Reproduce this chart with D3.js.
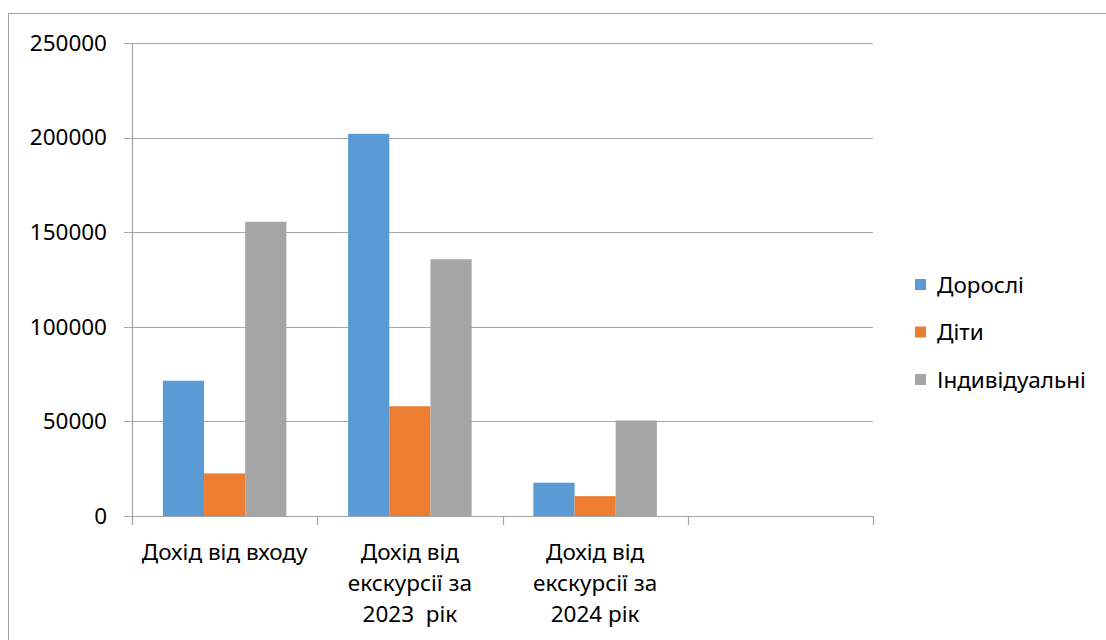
<!DOCTYPE html>
<html>
<head>
<meta charset="utf-8">
<script src="https://cdn.jsdelivr.net/npm/d3@7"></script>
<style>
  html, body { margin: 0; padding: 0; background: #fff; }
  svg { display: block; }
  text { font-family: "Noto Sans", "Open Sans", sans-serif; fill: #000; white-space: pre; }
</style>
</head>
<body>
<svg id="chart" width="1106" height="640"></svg>
<script>
const categories = [
  ["Дохід від входу"],
  ["Дохід від", "екскурсії за", "2023  рік"],
  ["Дохід від", "екскурсії за", "2024 рік"],
  [""]
];
const seriesNames = ["Дорослі", "Діти", "Індивідуальні"];
const seriesColors = ["#5b9bd5", "#ed7d31", "#a5a5a5"];
const adults = [71500, 202000, 17600, null];
const children = [22500, 58000, 10500, null];
const individual = [155500, 135700, 50500, null];
const yTicks = [0, 50000, 100000, 150000, 200000, 250000];

(function() {
const seriesValues = [adults, children, individual];
const svg = d3.select("#chart");
const fs = 22.5;

// outer border
svg.append("rect").attr("x", 8.5).attr("y", 13.5).attr("width", 1120).attr("height", 660)
  .attr("fill", "none").attr("stroke", "#a0a0a0").attr("stroke-width", 1);

const pL = 132, pR = 873, pT = 43, pB = 516;
const catIdx = categories.map((d, i) => i);
const x = d3.scaleBand().domain(catIdx).range([pL, pR]).paddingInner(0).paddingOuter(0);
const bw = x.bandwidth() / 4.5;
const xs = d3.scaleBand().domain([0, 1, 2]).range([bw * 0.75, bw * 3.75]).padding(0);
const y = d3.scaleLinear().domain([0, 250000]).range([pB, pT]);

// gridlines
svg.append("g").selectAll("line").data(yTicks).join("line")
  .attr("x1", pL - 8).attr("x2", pR)
  .attr("y1", d => Math.round(y(d)) + 0.5).attr("y2", d => Math.round(y(d)) + 0.5)
  .attr("stroke", "#a6a6a6").attr("stroke-width", 1.2);

// y axis labels
svg.append("g").selectAll("text").data(yTicks).join("text")
  .attr("x", 107).attr("y", d => y(d)).attr("dy", "0.35em")
  .attr("text-anchor", "end").attr("font-size", fs)
  .text(d => d);

// bars
const groups = svg.append("g").selectAll("g").data(seriesValues).join("g")
  .attr("fill", (d, i) => seriesColors[i]);
groups.each(function(vals, si) {
  d3.select(this).selectAll("rect").data(vals.map((v, ci) => ({v, ci})).filter(d => d.v != null)).join("rect")
    .attr("x", d => x(d.ci) + xs(si))
    .attr("width", xs.bandwidth())
    .attr("y", d => y(d.v))
    .attr("height", d => y(0) - y(d.v));
});

// axes lines
svg.append("line").attr("x1", pL + 0.5).attr("x2", pL + 0.5).attr("y1", pT).attr("y2", pB + 9)
  .attr("stroke", "#a6a6a6").attr("stroke-width", 1.2);
svg.append("line").attr("x1", pL - 8).attr("x2", pR).attr("y1", pB + 0.5).attr("y2", pB + 0.5)
  .attr("stroke", "#a6a6a6").attr("stroke-width", 1.2);
// category ticks
const tickXs = catIdx.map(i => x(i)).concat([pR]);
svg.append("g").selectAll("line").data(tickXs).join("line")
  .attr("x1", d => Math.round(d) + 0.5).attr("x2", d => Math.round(d) + 0.5)
  .attr("y1", pB).attr("y2", pB + 9)
  .attr("stroke", "#a6a6a6").attr("stroke-width", 1.2);

// category labels
const catG = svg.append("g").selectAll("text").data(categories).join("text")
  .attr("text-anchor", "middle").attr("font-size", fs)
  .attr("x", (d, i) => x(i) + x.bandwidth() / 2)
  .attr("y", 560);
catG.selectAll("tspan").data(d => d).join("tspan")
  .attr("x", function() { return d3.select(this.parentNode).attr("x"); })
  .attr("dy", (d, i) => i === 0 ? 0 : 30.8)
  .text(d => d);

// legend
const legend = svg.append("g").selectAll("g").data(seriesNames).join("g")
  .attr("transform", (d, i) => `translate(915, ${285 + i * 47.5})`);
legend.append("rect").attr("x", 0).attr("y", -6).attr("width", 11).attr("height", 11)
  .attr("fill", (d, i) => seriesColors[i]);
legend.append("text").attr("x", 22).attr("y", 0).attr("dy", "0.35em")
  .attr("font-size", fs).text(d => d);
})();
</script>
</body>
</html>
